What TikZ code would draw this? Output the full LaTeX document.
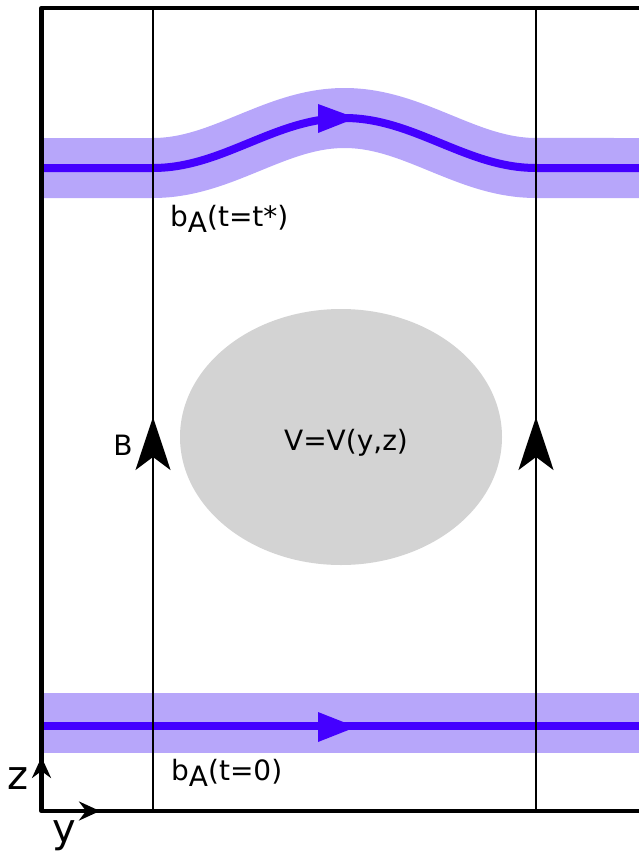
\documentclass[tikz,border=0pt]{standalone}
\usepackage{fontspec}
\setmainfont{DejaVu Sans}
\usetikzlibrary{arrows.meta}
\definecolor{bandc}{RGB}{183,166,250}
\definecolor{linec}{RGB}{68,0,255}
\definecolor{ellc}{RGB}{211,211,211}
\tikzset{
  frameline/.style={line width=4.5pt, line join=round},
  fieldline/.style={line width=2.5pt},
  bandstroke/.style={bandc, line width=60pt, line cap=butt},
  corestroke/.style={linec, line width=8pt, line cap=butt},
  dirtri/.style={fill=linec, draw=none},
  lbl/.style={inner sep=0pt, font=\fontsize{28}{32}\selectfont},
  axlbl/.style={inner sep=0pt, font=\fontsize{40}{44}\selectfont},
  barrow/.style={line width=2.5pt, -{Stealth[length=53pt,width=35pt,inset=13pt]}},
  axarrow/.style={line width=4pt, -{Stealth[length=21pt,width=19pt,inset=7pt]}}
}
\newcommand{\bsubA}{b\raisebox{-0.22em}{A}}
\begin{document}
\begin{tikzpicture}[x=1pt,y=-1pt]
\useasboundingbox (0,0) rectangle (639,856);
% bands
\draw[bandstroke] (42,168) -- (153,168) -- plot[domain=153:536, samples=80] (\x,{168-25*(1-cos(0.939948*(\x-153)))}) -- (639,168);
\draw[corestroke] (42,168) -- (153,168) -- plot[domain=153:536, samples=80] (\x,{168-25*(1-cos(0.939948*(\x-153)))}) -- (639,168);
\draw[bandstroke] (42,723) -- (639,723);
\draw[corestroke] (42,726) -- (639,726);
% direction triangles
\fill[dirtri] (318,104) -- (356,118) -- (318,133) -- cycle;
\fill[dirtri] (318,712) -- (356,727) -- (318,742) -- cycle;
% potential region
\fill[ellc] (341,437) ellipse [x radius=161, y radius=128];
\node[lbl] (V) at (346,443) {V=V(y,z)};
% field lines
\coordinate (L1t) at (153,8);
\coordinate (L1b) at (153,811);
\coordinate (L2t) at (536,8);
\coordinate (L2b) at (536,811);
\draw[fieldline] (L1t) -- (L1b);
\draw[fieldline] (L2t) -- (L2b);
\coordinate (B1s) at (153,500);
\coordinate (B1e) at (153,417);
\coordinate (B2s) at (536,500);
\coordinate (B2e) at (536,417);
\draw[barrow] (B1s) -- (B1e);
\draw[barrow] (B2s) -- (B2e);
\node[lbl] (Blab) at (123,445) {B};
% frame
\coordinate (TR) at (639,8);
\coordinate (TL) at (41.5,8);
\coordinate (BL) at (41.5,811);
\coordinate (BR) at (639,811);
\draw[frameline] (TR) -- (TL) -- (BL) -- (BR);
% axes
\coordinate (O) at (41.5,811);
\coordinate (Zt) at (41.5,757);
\coordinate (Yt) at (100,811);
\draw[axarrow] (O) -- (Zt);
\draw[axarrow] (O) -- (Yt);
\node[axlbl] (zlab) at (18,779) {z};
\node[axlbl] (ylab) at (64,836) {y};
% labels
\node[lbl, anchor=west] (top) at (170,219) {\bsubA(t=t*)};
\node[lbl, anchor=west] (bot) at (171,773) {\bsubA(t=0)};
\end{tikzpicture}
\end{document}
